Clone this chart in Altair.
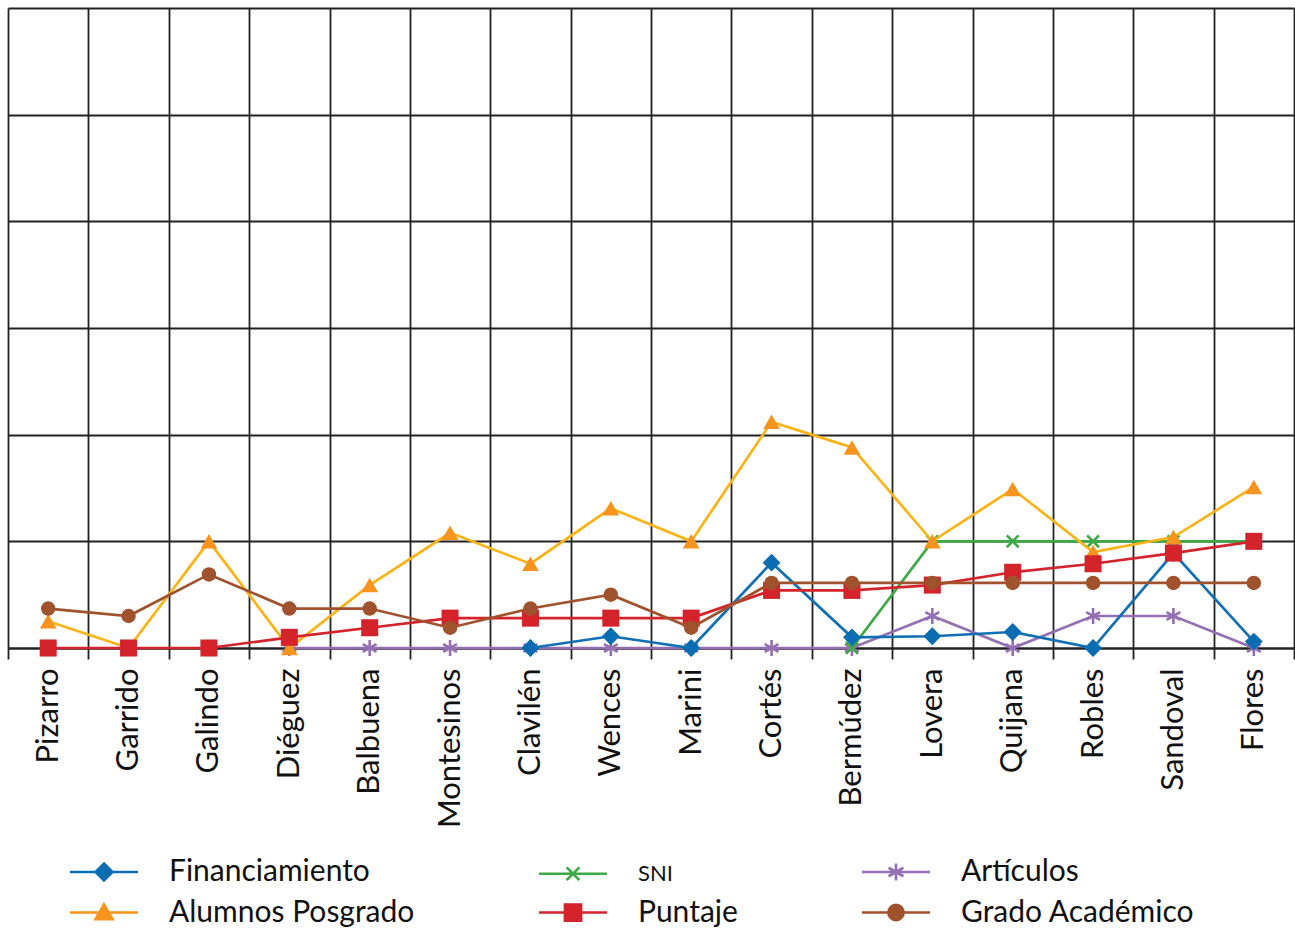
import altair as alt
import pandas as pd

# Investigadores evaluados (eje de categorías)
investigadores = [
    "Pizarro", "Garrido", "Galindo", "Diéguez", "Balbuena", "Montesinos",
    "Clavilén", "Wences", "Marini", "Cortés", "Bermúdez", "Lovera",
    "Quijana", "Robles", "Sandoval", "Flores",
]

# Valores de cada indicador (None = sin dato)
financiamiento = [None, None, None, None, None, None,
                  0.0, 0.11, 0.0, 0.8, 0.1, 0.11, 0.15, 0.0, 0.89, 0.06]
alumnos_posgrado = [0.25, 0.0, 1.0, 0.0, 0.59, 1.08, 0.79, 1.31,
                    1.0, 2.12, 1.88, 1.0, 1.49, 0.9, 1.04, 1.51]
sni = [None, None, None, None, None, None, None, None,
       None, None, 0.0, 1.0, 1.0, 1.0, 1.0, 1.0]
puntaje = [0.0, 0.0, 0.0, 0.1, 0.19, 0.28, 0.28, 0.28,
           0.28, 0.54, 0.54, 0.59, 0.71, 0.79, 0.89, 1.0]
articulos = [None, None, None, 0.0, 0.0, 0.0, 0.0, 0.0,
             0.0, 0.0, 0.0, 0.3, 0.0, 0.3, 0.3, 0.0]
grado_academico = [0.37, 0.3, 0.69, 0.37, 0.37, 0.19, 0.37, 0.5,
                   0.19, 0.61, 0.61, 0.61, 0.61, 0.61, 0.61, 0.61]

series = {
    "Financiamiento": financiamiento,
    "Alumnos Posgrado": alumnos_posgrado,
    "SNI": sni,
    "Puntaje": puntaje,
    "Artículos": articulos,
    "Grado Académico": grado_academico,
}
orden_series = list(series.keys())

rows = []
for nombre, valores in series.items():
    for inv, v in zip(investigadores, valores):
        if v is not None:
            rows.append({"investigador": inv, "serie": nombre, "valor": v})
df = pd.DataFrame(rows)

FONT = "Lato"
GRID = "#222222"

# Estilo de cada serie: color de línea, color de marcador, forma, relleno, tamaño
ASTERISK = "M0,-1V1M-0.87,-0.5L0.87,0.5M-0.87,0.5L0.87,-0.5"
CROSS = "M-0.8,-0.8L0.8,0.8M-0.8,0.8L0.8,-0.8"
estilos = {
    "Financiamiento": dict(line="#1170B5", marker="#0A6DB3", shape="diamond", filled=True, size=320),
    "Alumnos Posgrado": dict(line="#FCB315", marker="#F7941D", shape="triangle-up", filled=True, size=280),
    "SNI": dict(line="#3DAA47", marker="#3DAA47", shape=CROSS, filled=False, size=220),
    "Puntaje": dict(line="#D5232B", marker="#D5232B", shape="square", filled=True, size=290),
    "Artículos": dict(line="#9470B3", marker="#9470B3", shape=ASTERISK, filled=False, size=250),
    "Grado Académico": dict(line="#A0522D", marker="#A0522D", shape="circle", filled=True, size=210),
}
orden_dibujo = ["Artículos", "SNI", "Financiamiento", "Alumnos Posgrado", "Puntaje", "Grado Académico"]

x_enc = alt.X(
    "investigador:N",
    sort=investigadores,
    scale=alt.Scale(type="band", domain=investigadores, paddingInner=0, paddingOuter=0),
    axis=alt.Axis(
        title=None, labelAngle=270, tickBand="extent", grid=True,
        gridColor=GRID, gridWidth=1.8, gridOpacity=1,
        ticks=True, tickSize=11, tickColor=GRID, tickWidth=1.8,
        domain=True, domainColor=GRID, domainWidth=1.8,
        labelFont=FONT, labelFontSize=31, labelColor="#111111", labelPadding=9,
    ),
)
y_enc = alt.Y(
    "valor:Q",
    scale=alt.Scale(domain=[0, 6], nice=False, zero=True),
    axis=alt.Axis(
        title=None, labels=False, ticks=False, domain=False, grid=True,
        values=[0, 1, 2, 3, 4, 5, 6], gridColor=GRID, gridWidth=1.8, gridOpacity=1,
        minExtent=0, maxExtent=0,
    ),
)

capas = []
for nombre in orden_dibujo:
    st = estilos[nombre]
    base = alt.Chart(df).transform_filter(alt.datum.serie == nombre)
    capas.append(base.mark_line(color=st["line"], strokeWidth=2.7).encode(x=x_enc, y=y_enc))
    capas.append(
        base.mark_point(
            shape=st["shape"], filled=st["filled"], color=st["marker"],
            size=st["size"], opacity=1, strokeWidth=2.6,
        ).encode(x=x_enc, y=y_enc)
    )

# Leyenda: línea con marcador para cada serie, en tres columnas
SEG = "M-4,0H4"
simbolos = {
    "Financiamiento": SEG + "M0,-1L1,0L0,1L-1,0Z",
    "Alumnos Posgrado": SEG + "M0,-0.95L1,0.8L-1,0.8Z",
    "SNI": SEG + "M-0.75,-0.75L0.75,0.75M-0.75,0.75L0.75,-0.75",
    "Puntaje": SEG + "M-0.95,-0.95H0.95V0.95H-0.95Z",
    "Artículos": SEG + "M0,-1V1M-0.87,-0.5L0.87,0.5M-0.87,0.5L0.87,-0.5",
    "Grado Académico": SEG + "M0.9,0A0.9,0.9,0,1,1,-0.9,0A0.9,0.9,0,1,1,0.9,0Z",
}
leg_fill = [estilos[s]["marker"] for s in orden_series]
leg_shape = [simbolos[s] for s in orden_series]

leyenda = alt.Legend(
    title=None, orient="none", legendX=81, legendY=849, columns=3,
    columnPadding=118, rowPadding=10.5, padding=0, gridAlign="each",
    symbolSize=289, symbolStrokeWidth=2.6, symbolOpacity=1,
    labelFont=FONT, labelColor="#111111",
    labelFontSize=alt.ExprRef("datum.value === 'SNI' ? 22 : 30"),
    labelOffset=50, labelLimit=600,
)

capa_leyenda = (
    alt.Chart(df)
    .transform_filter("false")
    .mark_point(filled=True, opacity=1)
    .encode(
        x=x_enc, y=y_enc,
        fill=alt.Fill("serie:N", scale=alt.Scale(domain=orden_series, range=leg_fill), legend=leyenda),
        stroke=alt.Stroke("serie:N", scale=alt.Scale(domain=orden_series, range=leg_fill), legend=leyenda),
        shape=alt.Shape("serie:N", scale=alt.Scale(domain=orden_series, range=leg_shape), legend=leyenda),
    )
)

chart = (
    alt.layer(*capas, capa_leyenda)
    .properties(
        width=1286, height=640,
        autosize=alt.AutoSizeParams(type="none"),
        padding={"left": 8, "top": 8, "right": 1, "bottom": 281},
    )
    .configure_view(stroke=GRID, strokeWidth=1.8)
    .configure(background="white")
)

chart.save("out.html", embed_options={"renderer": "svg", "actions": False})
